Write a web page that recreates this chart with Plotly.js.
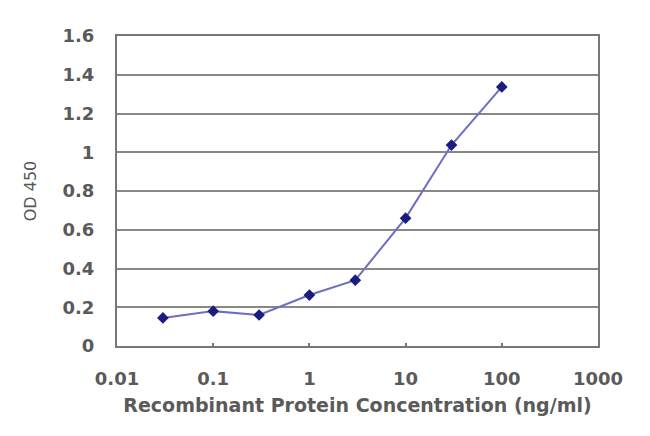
<!DOCTYPE html>
<html><head><meta charset="utf-8">
<script src="https://cdn.plot.ly/plotly-3.0.1.min.js"></script>
<style>body{margin:0;background:#fff}#chart{width:650px;height:436px}</style>
</head><body><div id="chart"></div>
<script>
const concentrations = [0.03, 0.1, 0.3, 1, 3, 10, 30, 100];
const od450 = [0.145, 0.18, 0.16, 0.263, 0.34, 0.66, 1.037, 1.337];
const xTickVals = [0.01, 0.1, 1, 10, 100, 1000];
const xTickText = ['0.01', '0.1', '1', '10', '100', '1000'];
const yTickVals = [0, 0.2, 0.4, 0.6, 0.8, 1, 1.2, 1.4, 1.6];
const yTickText = ['0', '0.2', '0.4', '0.6', '0.8', '1', '1.2', '1.4', '1.6'];

const trace = {
  x: concentrations, y: od450, type: 'scatter', mode: 'lines+markers',
  line: {color: '#6e6ec4', width: 2},
  marker: {symbol: 'diamond', size: 9, color: '#1c1c80'},
  cliponaxis: false
};
const tickFont = {family: 'DejaVu Sans, sans-serif', size: 18, color: '#5a5a5a', weight: 'bold'};
const xTitleFont = {family: 'DejaVu Sans, sans-serif', size: 19, color: '#5a5a5a', weight: 'bold'};
const yTitleFont = {family: 'DejaVu Sans, sans-serif', size: 16, color: '#555'};
const layout = {
  width: 650, height: 436,
  margin: {l: 117, r: 52, t: 36, b: 90},
  paper_bgcolor: '#fff', plot_bgcolor: '#fff',
  showlegend: false,
  xaxis: {
    type: 'log', range: [-2, 3],
    tickvals: xTickVals, ticktext: xTickText,
    showgrid: false, zeroline: false,
    showline: true, linecolor: '#777', linewidth: 2, mirror: true,
    ticks: 'inside', ticklen: 3, tickcolor: '#777', tickwidth: 2,
    ticklabelstandoff: 15,
    tickfont: tickFont,
    title: {text: 'Recombinant Protein Concentration (ng/ml)', font: xTitleFont, standoff: 11}
  },
  yaxis: {
    range: [0, 1.6],
    tickvals: yTickVals, ticktext: yTickText,
    showgrid: true, gridcolor: '#888', gridwidth: 2,
    zeroline: false,
    showline: true, linecolor: '#777', linewidth: 2, mirror: true,
    ticks: '', ticklabelstandoff: 17,
    tickfont: tickFont,
    title: {text: 'OD 450', font: yTitleFont, standoff: 22}
  }
};
Plotly.newPlot('chart', [trace], layout, {staticPlot: true, displayModeBar: false});
</script></body></html>
